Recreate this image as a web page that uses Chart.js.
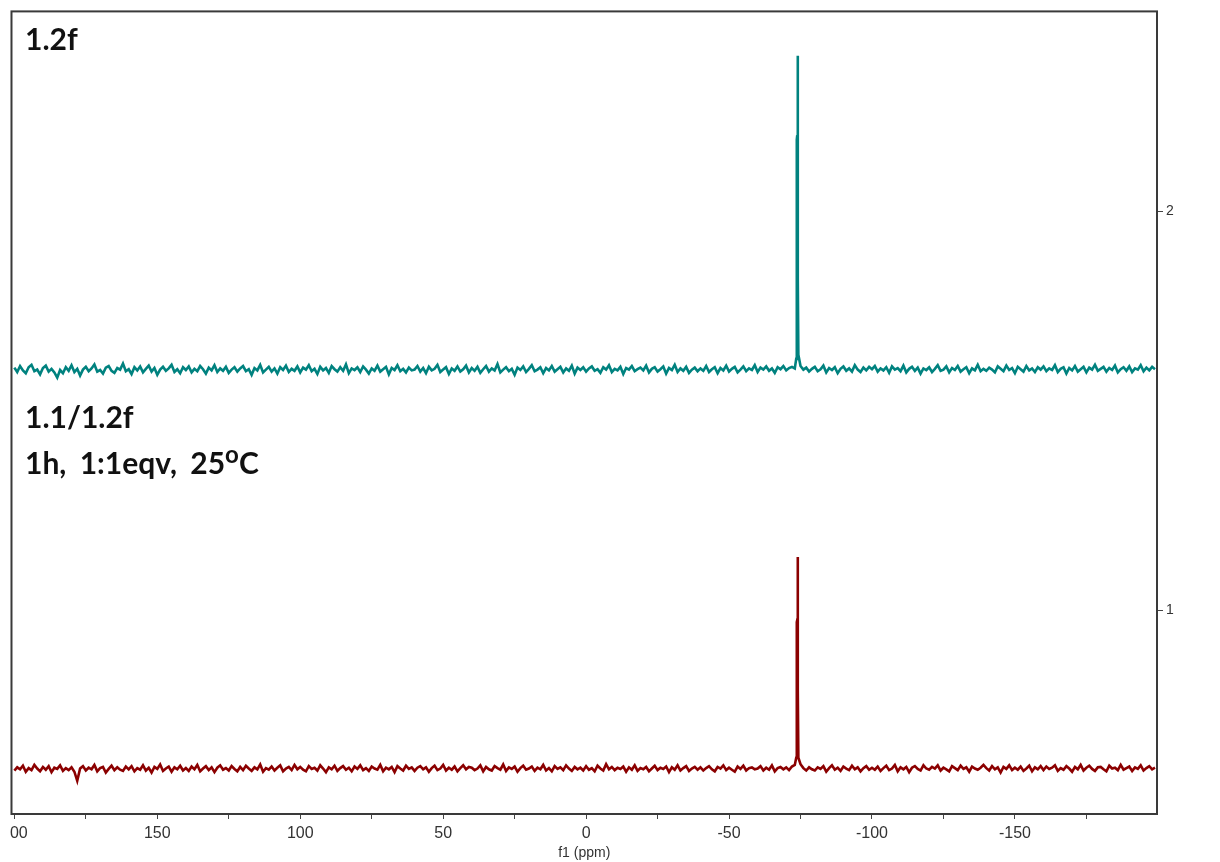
<!DOCTYPE html>
<html>
<head>
<meta charset="utf-8">
<title>19F NMR overlay</title>
<script src="https://cdn.jsdelivr.net/npm/chart.js@4/dist/chart.umd.min.js"></script>
<style>
  html, body { margin: 0; padding: 0; background: #fff; }
  #wrap { position: relative; width: 1220px; height: 862px; overflow: hidden; }
  #clip { position: absolute; left: 10px; top: 0; width: 1210px; height: 862px; overflow: hidden; }
  #spec { position: absolute; left: -14px; top: 0; }
  .lbl { position: absolute; left: 25px; font: bold 30px Lato, "Open Sans", sans-serif; color: #111; line-height: 1; white-space: nowrap; }
  .lbl sup { font-size: 0.8em; vertical-align: 0.45em; line-height: 0; }
</style>
</head>
<body>
<div id="wrap">
  <div id="clip"><canvas id="spec" width="1224" height="862"></canvas></div>
  <div class="lbl" style="top:23px">1.2f</div>
  <div class="lbl" style="top:401px">1.1/1.2f</div>
  <div class="lbl" style="top:447px; word-spacing:0.2em">1h, 1:1eqv, 25<sup>o</sup>C</div>
</div>
<script>
// chemical shift grid (ppm), 1 ppm steps
const ppm = [
  200,199,198,197,196,195,194,193,192,191,190,189,188,187,186,185,184,183,182,181,
  180,179,178,177,176,175,174,173,172,171,170,169,168,167,166,165,164,163,162,161,
  160,159,158,157,156,155,154,153,152,151,150,149,148,147,146,145,144,143,142,141,
  140,139,138,137,136,135,134,133,132,131,130,129,128,127,126,125,124,123,122,121,
  120,119,118,117,116,115,114,113,112,111,110,109,108,107,106,105,104,103,102,101,
  100,99,98,97,96,95,94,93,92,91,90,89,88,87,86,85,84,83,82,81,
  80,79,78,77,76,75,74,73,72,71,70,69,68,67,66,65,64,63,62,61,
  60,59,58,57,56,55,54,53,52,51,50,49,48,47,46,45,44,43,42,41,
  40,39,38,37,36,35,34,33,32,31,30,29,28,27,26,25,24,23,22,21,
  20,19,18,17,16,15,14,13,12,11,10,9,8,7,6,5,4,3,2,1,
  0,-1,-2,-3,-4,-5,-6,-7,-8,-9,-10,-11,-12,-13,-14,-15,-16,-17,-18,-19,
  -20,-21,-22,-23,-24,-25,-26,-27,-28,-29,-30,-31,-32,-33,-34,-35,-36,-37,-38,-39,
  -40,-41,-42,-43,-44,-45,-46,-47,-48,-49,-50,-51,-52,-53,-54,-55,-56,-57,-58,-59,
  -60,-61,-62,-63,-64,-65,-66,-67,-68,-69,-70,-71,-72,-73,-74,-75,-76,-77,-78,-79,
  -80,-81,-82,-83,-84,-85,-86,-87,-88,-89,-90,-91,-92,-93,-94,-95,-96,-97,-98,-99,
  -100,-101,-102,-103,-104,-105,-106,-107,-108,-109,-110,-111,-112,-113,-114,-115,-116,-117,-118,-119,
  -120,-121,-122,-123,-124,-125,-126,-127,-128,-129,-130,-131,-132,-133,-134,-135,-136,-137,-138,-139,
  -140,-141,-142,-143,-144,-145,-146,-147,-148,-149,-150,-151,-152,-153,-154,-155,-156,-157,-158,-159,
  -160,-161,-162,-163,-164,-165,-166,-167,-168,-169,-170,-171,-172,-173,-174,-175,-176,-177,-178,-179,
  -180,-181,-182,-183,-184,-185,-186,-187,-188,-189,-190,-191,-192,-193,-194,-195,-196,-197,-198,-199
];

// 1.2f trace (stacked at offset ~1.6)
const trace12f = [
  1.608,1.597,1.612,1.601,1.594,1.609,1.615,1.599,1.603,1.591,1.607,1.613,1.598,1.605,1.596,1.583,1.602,1.594,1.609,1.600,
  1.614,1.597,1.605,1.588,1.603,1.610,1.599,1.606,1.616,1.598,1.602,1.593,1.608,1.612,1.600,1.595,1.607,1.603,1.618,1.599,
  1.604,1.592,1.609,1.601,1.611,1.596,1.605,1.613,1.598,1.607,1.590,1.603,1.610,1.600,1.606,1.615,1.597,1.604,1.594,1.609,
  1.602,1.611,1.596,1.605,1.599,1.612,1.604,1.593,1.608,1.601,1.614,1.597,1.606,1.600,1.610,1.595,1.603,1.609,1.598,1.606,
  1.612,1.599,1.604,1.590,1.607,1.601,1.615,1.596,1.603,1.610,1.598,1.606,1.593,1.609,1.602,1.613,1.597,1.605,1.600,1.611,
  1.596,1.608,1.603,1.614,1.599,1.605,1.592,1.610,1.601,1.607,1.595,1.612,1.604,1.598,1.609,1.600,1.616,1.594,1.606,1.602,
  1.609,1.597,1.611,1.603,1.593,1.606,1.600,1.613,1.598,1.604,1.610,1.591,1.607,1.602,1.614,1.599,1.605,1.596,1.608,1.601,
  1.603,1.612,1.598,1.607,1.594,1.610,1.601,1.605,1.615,1.597,1.603,1.609,1.592,1.606,1.600,1.611,1.598,1.604,1.613,1.596,
  1.607,1.600,1.610,1.595,1.604,1.612,1.598,1.606,1.601,1.617,1.596,1.603,1.609,1.599,1.605,1.590,1.608,1.602,1.611,1.597,
  1.605,1.614,1.599,1.603,1.609,1.594,1.607,1.601,1.612,1.598,1.604,1.610,1.596,1.606,1.600,1.613,1.593,1.608,1.602,1.609,
  1.598,1.606,1.611,1.600,1.604,1.595,1.609,1.603,1.614,1.597,1.605,1.601,1.610,1.592,1.607,1.603,1.612,1.599,1.604,1.608,
  1.601,1.613,1.596,1.605,1.609,1.598,1.604,1.611,1.593,1.607,1.602,1.615,1.597,1.606,1.600,1.610,1.595,1.603,1.608,1.599,
  1.606,1.600,1.612,1.597,1.604,1.609,1.594,1.607,1.601,1.613,1.598,1.605,1.610,1.596,1.603,1.611,1.599,1.606,1.602,1.614,
  1.597,1.608,1.603,1.611,1.600,1.606,1.595,1.609,1.604,1.612,1.601,1.607,1.610,1.606,2.390,1.612,1.603,1.608,1.598,1.605,
  1.610,1.599,1.604,1.613,1.596,1.607,1.602,1.609,1.594,1.605,1.611,1.600,1.606,1.598,1.614,1.603,1.597,1.608,1.601,1.610,
  1.604,1.612,1.598,1.606,1.601,1.609,1.595,1.611,1.603,1.607,1.599,1.613,1.596,1.605,1.610,1.600,1.608,1.593,1.606,1.602,
  1.609,1.597,1.605,1.614,1.600,1.603,1.611,1.596,1.607,1.602,1.612,1.598,1.604,1.609,1.594,1.606,1.601,1.615,1.599,1.605,
  1.600,1.608,1.603,1.596,1.611,1.605,1.599,1.613,1.602,1.607,1.594,1.610,1.604,1.598,1.612,1.601,1.606,1.597,1.609,1.603,
  1.611,1.599,1.606,1.602,1.614,1.597,1.605,1.609,1.593,1.607,1.601,1.612,1.598,1.604,1.610,1.596,1.608,1.603,1.615,1.600,
  1.605,1.610,1.598,1.607,1.602,1.613,1.596,1.604,1.609,1.600,1.611,1.597,1.606,1.603,1.614,1.599,1.608,1.601,1.610,1.604
];

// 1.1/1.2f mixture trace (offset ~0.6)
const traceMix = [
  0.598,0.606,0.601,0.610,0.595,0.604,0.599,0.612,0.603,0.596,0.607,0.600,0.609,0.594,0.605,0.602,0.611,0.597,0.604,0.599,
  0.606,0.595,0.572,0.603,0.609,0.598,0.605,0.601,0.612,0.596,0.604,0.607,0.593,0.602,0.610,0.599,0.606,0.600,0.597,0.608,
  0.601,0.609,0.596,0.604,0.600,0.611,0.598,0.605,0.593,0.607,0.602,0.613,0.597,0.603,0.608,0.595,0.606,0.601,0.610,0.598,
  0.604,0.597,0.608,0.601,0.612,0.596,0.603,0.609,0.599,0.606,0.594,0.605,0.611,0.600,0.604,0.598,0.609,0.602,0.596,0.607,
  0.599,0.610,0.603,0.597,0.606,0.601,0.613,0.595,0.604,0.600,0.608,0.598,0.605,0.611,0.596,0.603,0.607,0.599,0.612,0.601,
  0.607,0.600,0.596,0.609,0.602,0.605,0.598,0.611,0.603,0.594,0.606,0.601,0.610,0.597,0.604,0.609,0.600,0.605,0.596,0.608,
  0.602,0.611,0.599,0.604,0.597,0.608,0.603,0.600,0.612,0.596,0.605,0.601,0.607,0.594,0.609,0.603,0.598,0.610,0.602,0.606,
  0.597,0.605,0.609,0.601,0.606,0.595,0.604,0.610,0.599,0.603,0.612,0.598,0.605,0.600,0.608,0.596,0.604,0.611,0.601,0.607,
  0.605,0.599,0.603,0.611,0.596,0.607,0.601,0.598,0.609,0.604,0.600,0.613,0.597,0.606,0.602,0.608,0.595,0.604,0.610,0.600,
  0.603,0.608,0.597,0.605,0.601,0.612,0.598,0.604,0.596,0.609,0.602,0.606,0.599,0.611,0.603,0.597,0.607,0.601,0.605,0.598,
  0.609,0.600,0.604,0.596,0.610,0.603,0.598,0.614,0.601,0.607,0.599,0.605,0.602,0.608,0.595,0.606,0.600,0.611,0.597,0.604,
  0.601,0.607,0.596,0.603,0.610,0.599,0.605,0.602,0.608,0.594,0.606,0.600,0.611,0.598,0.604,0.609,0.597,0.603,0.607,0.600,
  0.606,0.598,0.604,0.609,0.601,0.596,0.607,0.603,0.611,0.599,0.605,0.600,0.595,0.608,0.602,0.610,0.598,0.604,0.606,0.601,
  0.603,0.609,0.598,0.605,0.600,0.611,0.596,0.604,0.607,0.601,0.606,0.599,0.608,0.612,1.133,0.614,0.604,0.598,0.606,0.601,
  0.598,0.606,0.602,0.609,0.595,0.604,0.611,0.600,0.605,0.597,0.608,0.603,0.599,0.610,0.601,0.606,0.596,0.604,0.609,0.600,
  0.605,0.600,0.608,0.597,0.604,0.610,0.599,0.603,0.612,0.596,0.606,0.601,0.607,0.594,0.605,0.609,0.602,0.598,0.611,0.603,
  0.600,0.607,0.603,0.611,0.598,0.605,0.601,0.596,0.609,0.604,0.599,0.610,0.602,0.606,0.595,0.608,0.603,0.600,0.605,0.612,
  0.604,0.598,0.609,0.601,0.606,0.593,0.607,0.602,0.611,0.599,0.605,0.600,0.608,0.597,0.603,0.610,0.596,0.606,0.601,0.609,
  0.599,0.608,0.602,0.605,0.611,0.597,0.604,0.600,0.609,0.603,0.595,0.607,0.601,0.612,0.598,0.605,0.610,0.602,0.597,0.606,
  0.607,0.601,0.596,0.610,0.603,0.605,0.599,0.612,0.600,0.604,0.608,0.597,0.606,0.602,0.611,0.598,0.604,0.609,0.601,0.605
];

// extra points across the narrow signal near -74 ppm
const peakPpm = [-73.5, -73.7, -73.85, -74.1, -74.25];
const peak12f = [1.630, 2.180, 2.190, 1.830, 1.640];
const peakMix = [0.630, 0.970, 0.975, 0.800, 0.630];

const yTicks = [1, 2];

function buildSeries(base, peak) {
  const pts = ppm.map((x, i) => ({ x: x, y: base[i] }));
  peakPpm.forEach((x, i) => pts.push({ x: x, y: peak[i] }));
  return pts.sort((a, b) => b.x - a.x);
}

// plot frame (all four sides)
const frame = {
  id: 'frame',
  afterDraw(chart) {
    const { ctx, chartArea: a } = chart;
    ctx.save();
    ctx.strokeStyle = '#3a3a3a';
    ctx.lineWidth = 2;
    ctx.strokeRect(a.left, a.top, a.right - a.left, a.bottom - a.top);
    ctx.restore();
  }
};

const axisFont = { family: '"Liberation Sans", Arial, sans-serif', size: 16 };

new Chart(document.getElementById('spec'), {
  type: 'line',
  data: {
    datasets: [
      {
        label: '1.2f',
        data: buildSeries(trace12f, peak12f),
        borderColor: '#00827f',
        borderWidth: 2.6,
        pointRadius: 0,
        tension: 0
      },
      {
        label: '1.1/1.2f',
        data: buildSeries(traceMix, peakMix),
        borderColor: '#8b0000',
        borderWidth: 2.6,
        pointRadius: 0,
        tension: 0
      }
    ]
  },
  options: {
    responsive: false,
    animation: false,
    layout: { padding: { left: 1, top: 11, right: 0, bottom: 0 } },
    plugins: {
      legend: { display: false },
      tooltip: { enabled: false }
    },
    scales: {
      x: {
        type: 'linear',
        reverse: true,
        min: -199.7,
        max: 201,
        afterFit: s => { s.height = 48; },
        border: { display: false },
        grid: { drawOnChartArea: false, drawTicks: true, tickLength: 5, color: '#444' },
        ticks: {
          stepSize: 25,
          includeBounds: false,
          autoSkip: false,
          maxRotation: 0,
          padding: 5,
          color: '#333',
          font: axisFont,
          callback: v => (v % 50 === 0 ? String(v) : '')
        },
        title: {
          display: true,
          text: 'f1 (ppm)',
          color: '#333',
          font: { family: '"Liberation Sans", Arial, sans-serif', size: 14 },
          padding: { top: 0, bottom: 0 }
        }
      },
      y: {
        type: 'linear',
        position: 'right',
        min: 0.489,
        max: 2.501,
        afterFit: s => { s.width = 63; },
        afterBuildTicks: s => { s.ticks = yTicks.map(v => ({ value: v })); },
        border: { display: false },
        grid: { drawOnChartArea: false, tickLength: 6, color: '#444' },
        ticks: { padding: 3, color: '#333', font: { family: '"Liberation Sans", Arial, sans-serif', size: 14 } }
      }
    }
  },
  plugins: [frame]
});
</script>
</body>
</html>
